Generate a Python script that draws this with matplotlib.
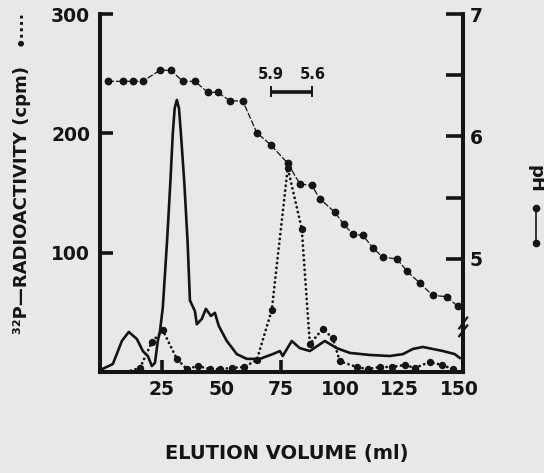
import matplotlib
matplotlib.use("Agg")
import matplotlib.pyplot as plt
from matplotlib.lines import Line2D

# ── fraction data ───────────────────────────────────────────────────
# pH of collected fractions (right axis)
ph_volume = [2.3, 8.6, 12.8, 17.0, 24.2, 28.8, 33.8, 38.9, 44.3, 48.5,
             53.6, 59.0, 64.9, 70.8, 77.9, 83.0, 88.0, 91.4, 97.7, 101.5,
             105.3, 109.5, 113.7, 117.9, 123.7, 128.0, 133.4, 138.9, 144.7, 149.4]
ph_value = [6.45, 6.45, 6.45, 6.45, 6.54, 6.54, 6.45, 6.45, 6.36, 6.36,
            6.29, 6.29, 6.03, 5.93, 5.78, 5.61, 5.60, 5.49, 5.38, 5.28,
            5.20, 5.19, 5.09, 5.01, 5.00, 4.90, 4.80, 4.70, 4.69, 4.61]

# 32P counts (left axis)
cpm_volume = [10.0, 15.8, 20.8, 25.4, 31.3, 35.5, 40.1, 45.2, 49.4, 54.4,
              59.5, 64.9, 71.2, 77.9, 83.8, 87.2, 92.6, 96.8, 99.8, 106.9,
              111.6, 116.6, 121.6, 127.1, 131.3, 137.6, 142.6, 147.3]
cpm_value = [0, 3.4, 25, 35, 11, 2.5, 5, 2.5, 2.5, 3.4,
             4.2, 10, 52, 171, 120, 23.5, 36, 28.6, 9, 4.2,
             2.5, 4.2, 4.2, 5.9, 3.4, 8.4, 5.9, 2.5]

# absorbance trace (no own scale, drawn in cpm units)
abs_volume = [0.0, 4.4, 8.2, 11.1, 14.5, 17.0, 19.1, 20.8, 22.1, 23.3,
              24.2, 25.4, 27.2, 28.6, 29.6, 30.4, 31.3, 32.2, 33.0, 34.4,
              35.8, 36.8, 38.9, 39.7, 41.8, 43.5, 45.6, 47.3, 48.9, 52.3,
              56.5, 60.7, 66.2, 71.6, 74.6, 75.8, 79.6, 83.0, 87.2, 93.5,
              98.5, 104.0, 112.4, 120.8, 126.3, 130.5, 134.7, 138.9, 143.1,
              148.1, 150.2]
abs_value = [2.5, 6.7, 26, 33.6, 27.7, 17.6, 13.4, 5, 7.6, 26,
             34, 54, 110, 160, 200, 221, 228, 221, 200, 160,
             110, 60, 51, 40, 44.5, 53, 47, 49.6, 38.7, 26,
             15, 11, 11, 15, 17.6, 13.4, 26, 20, 17.6, 26,
             20, 16, 14.3, 13.4, 15, 19.3, 21, 19.3, 17.6,
             15, 11.8]

# pooled fractions bar
pool_volume = [70.8, 88.3]
pool_ph = ["5.9", "5.6"]
pool_level = 235

x_ticks = [25, 50, 75, 100, 125, 150]
x_marked = [25, 75]
cpm_ticks = [100, 200, 300]
ph_ticks = [5, 6, 7]
ph_minor = [5.5, 6.5]

INK = "#141414"
PAPER = "#e8e8e6"
plt.rcParams["font.family"] = "DejaVu Sans"
plt.rcParams["font.weight"] = "bold"

fig = plt.figure(figsize=(5.44, 4.73), dpi=100, facecolor=PAPER)
ax = fig.add_axes([0.1838, 0.2135, 0.667, 0.7569])
ax.set_facecolor("none")
ax2 = ax.twinx()

# ── traces ─────────────────────────────────────────────────────────
ax.plot(abs_volume, abs_value, color=INK, lw=1.9, solid_joinstyle="round", zorder=3)
ax.plot(cpm_volume, cpm_value, color=INK, lw=2.0, linestyle=(0, (0.05, 1.7)),
        dash_capstyle="round", zorder=4)
ax.plot(cpm_volume[1:], cpm_value[1:], "o", color=INK, ms=4.3, zorder=5)

ax2.plot(ph_volume, ph_value, color=INK, lw=0.9, linestyle=(0, (5, 1.5)),
         marker="o", ms=4.6, zorder=4)

# pooled region bar with end caps
ax.plot(pool_volume, [pool_level] * 2, color=INK, lw=2.6, solid_capstyle="butt")
for v, lab in zip(pool_volume, pool_ph):
    ax.plot([v, v], [pool_level - 4, pool_level + 4], color=INK, lw=1.4)
    ax.text(v, pool_level + 8, lab, ha="center", va="bottom", fontsize=10.5,
            fontweight="bold", color=INK)

# ── axes ───────────────────────────────────────────────────────────
ax.set_xlim(-1.0, 151.5)
ax.set_ylim(0, 300)
ax2.set_ylim(4.074, 7.0)

for a in (ax, ax2):
    a.spines["top"].set_visible(False)
    for s in a.spines.values():
        s.set_linewidth(2.9)
        s.set_color(INK)
ax.spines["right"].set_visible(False)
ax2.spines["left"].set_visible(False)
ax2.spines["bottom"].set_visible(False)

ax.set_xticks(x_ticks)
ax.set_xticklabels([str(t) for t in x_ticks])
ax.set_yticks(cpm_ticks)
ax.set_yticklabels([str(t) for t in cpm_ticks])
ax.tick_params(axis="both", direction="in", length=9, width=2.6, colors=INK,
               labelsize=13.5, pad=6)
ax.tick_params(axis="y", pad=7)
# only some volume ticks carry a mark
for t, tick in zip(x_ticks, ax.xaxis.get_major_ticks()):
    if t not in x_marked:
        tick.tick1line.set_visible(False)

ax2.set_yticks(ph_ticks)
ax2.set_yticklabels([str(t) for t in ph_ticks])
ax2.set_yticks(ph_minor, minor=True)
ax2.tick_params(axis="y", which="both", direction="in", length=12, width=2.6,
                colors=INK, labelsize=13.5, pad=5)

for lab in ax.get_xticklabels() + ax.get_yticklabels() + ax2.get_yticklabels():
    lab.set_fontweight("bold")

# axis break on the pH scale
for dy in (0.0, 0.022):
    ax2.plot([0.99, 1.012], [0.1 + dy, 0.13 + dy], transform=ax2.transAxes,
             color=INK, lw=1.6, clip_on=False)

# ── axis titles ────────────────────────────────────────────────────
fig.text(287 / 544, 1 - 453 / 473, "ELUTION VOLUME (ml)", ha="center",
         va="center", fontsize=14, fontweight="bold", color=INK)
fig.text(22 / 544, 1 - 200 / 473, "³²P—RADIOACTIVITY (cpm)", rotation=90,
         ha="center", va="center", fontsize=13, fontweight="bold", color=INK)
fig.text(22 / 544, 1 - 28 / 473, "•····", rotation=90, ha="center",
         va="center", fontsize=12, fontweight="bold", color=INK)
fig.text(536 / 544, 1 - 179 / 473, "pH", rotation=270, ha="center",
         va="center", fontsize=13, fontweight="bold", color=INK)
fig.add_artist(Line2D([536 / 544] * 2, [1 - 208 / 473, 1 - 243 / 473],
                      transform=fig.transFigure, color=INK, lw=1.2,
                      marker="o", ms=4.5))

fig.savefig("out.png", dpi=100, facecolor=PAPER)
